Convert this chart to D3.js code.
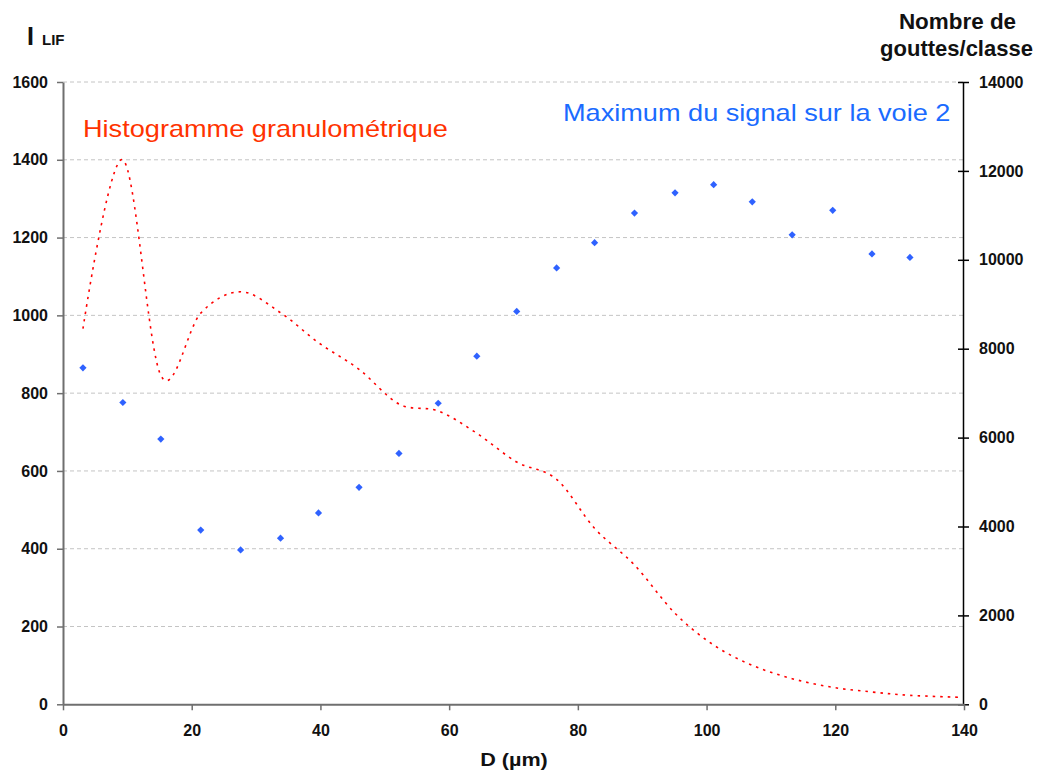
<!DOCTYPE html>
<html>
<head>
<meta charset="utf-8">
<script src="https://cdn.jsdelivr.net/npm/d3@7"></script>
<style>
  body { margin: 0; background: #fff; }
  svg { display: block; font-family: "Liberation Sans", Arial, sans-serif; }
</style>
</head>
<body>
<svg id="chart" width="1043" height="776"></svg>
<script>
// ---- data ----
const signalD = [3.1, 9.3, 15.2, 21.4, 27.6, 33.8, 39.7, 46.0, 52.2, 58.3, 64.3, 70.5, 76.7, 82.6, 88.8, 95.1, 101.1, 107.1, 113.3, 119.6, 125.7, 131.6];
const signalI = [865, 776, 682, 448, 397, 427, 492, 558, 645, 774, 895, 1010, 1122, 1187, 1263, 1315, 1336, 1292, 1207, 1270, 1158, 1149];

const histD = [3.1, 9.3, 15.2, 21.4, 27.6, 33.8, 39.7, 46.0, 52.2, 58.3, 64.3, 70.5, 76.7, 82.6, 88.8, 95.1, 101.1, 107.1, 113.3, 119.6, 125.7, 131.6, 139.5];
const histN = [8450, 12250, 7400, 8800, 9280, 8810, 8135, 7536, 6756, 6598, 6097, 5451, 5062, 3959, 3134, 2047, 1334, 877, 577, 382, 277, 202, 157];

const xTicks = [0, 20, 40, 60, 80, 100, 120, 140];
const yLeftTicks = [0, 200, 400, 600, 800, 1000, 1200, 1400, 1600];
const yRightTicks = [0, 2000, 4000, 6000, 8000, 10000, 12000, 14000];

// ---- scales ----
const svg = d3.select("#chart");
const L = 63, R = 964, T = 82, B = 704.3;
const x = d3.scaleLinear().domain([0, 140]).range([L, R]);
const yL = d3.scaleLinear().domain([0, 1600]).range([B, T]);
const yR = d3.scaleLinear().domain([0, 14000]).range([B, T]);
const fmt = d => String(d);
const FONT = "Liberation Sans, Arial, sans-serif";

// grid
svg.append("g").selectAll("line").data(yLeftTicks.filter(d => d > 0)).join("line")
  .attr("x1", L).attr("x2", R)
  .attr("y1", d => yL(d)).attr("y2", d => yL(d))
  .attr("stroke", "#c4c4c4").attr("stroke-width", 1).attr("stroke-dasharray", "4,3");

// left axis
const gl = svg.append("g").attr("transform", `translate(${L},0)`)
  .call(d3.axisLeft(yL).tickValues(yLeftTicks).tickFormat(fmt).tickSize(6).tickPadding(9).tickSizeOuter(0));
gl.select(".domain").attr("stroke", "#6f6f6f").attr("stroke-width", 2);
gl.selectAll(".tick line").attr("stroke", "#6f6f6f").attr("stroke-width", 1.5);
gl.selectAll(".tick text").attr("font-size", 16).attr("font-weight", "bold").attr("fill", "#111")
  .attr("font-family", FONT);

// right axis
const gr = svg.append("g").attr("transform", `translate(${R - 1},0)`)
  .call(d3.axisRight(yR).tickValues(yRightTicks).tickFormat(fmt).tickSize(6).tickPadding(10).tickSizeOuter(0));
gr.select(".domain").attr("stroke", "#000").attr("stroke-width", 1.5);
gr.selectAll(".tick line").attr("x1", -5).attr("stroke", "#000").attr("stroke-width", 1.5);
gr.selectAll(".tick text").attr("font-size", 16).attr("font-weight", "bold").attr("fill", "#111")
  .attr("font-family", FONT);

// bottom axis
const gb = svg.append("g").attr("transform", `translate(0,${B})`)
  .call(d3.axisBottom(x).tickValues(xTicks).tickFormat(fmt).tickSize(6).tickPadding(14).tickSizeOuter(0));
gb.select(".domain").attr("stroke", "#6f6f6f").attr("stroke-width", 2);
gb.selectAll(".tick line").attr("stroke", "#6f6f6f").attr("stroke-width", 1.5);
gb.selectAll(".tick text").attr("font-size", 16).attr("font-weight", "bold").attr("fill", "#111")
  .attr("font-family", FONT);

// histogram curve (right axis)
const line = d3.line().x((d, i) => x(histD[i])).y(d => yR(d)).curve(d3.curveCardinal.tension(0));
svg.append("path").datum(histN).attr("d", line)
  .attr("fill", "none").attr("stroke", "#ff0000").attr("stroke-width", 1.6)
  .attr("stroke-dasharray", "2.5,5");

// signal points (left axis)
const diamond = d3.symbol().type(d3.symbolSquare).size(26);
svg.append("g").selectAll("path").data(signalI).join("path")
  .attr("d", diamond)
  .attr("transform", (d, i) => `translate(${x(signalD[i])},${yL(d)}) rotate(45)`)
  .attr("fill", "#2f62ff");

// labels (horizontally stretched to match the reference glyph widths)
function label(tx, ty, sx, txt, size, fill, weight, anchor) {
  return svg.append("text")
    .attr("transform", `translate(${tx},${ty}) scale(${sx},1)`)
    .attr("font-size", size).attr("fill", fill)
    .attr("font-weight", weight || "normal")
    .attr("text-anchor", anchor || "start")
    .text(txt);
}
label(83, 136.5, 1.18, "Histogramme granulométrique", 23, "#ff3300");
label(563, 120.5, 1.18, "Maximum du signal sur la voie 2", 23, "#1a6bff");

const t1 = svg.append("text").attr("x", 27).attr("y", 45).attr("font-weight", "bold").attr("fill", "#111");
t1.append("tspan").attr("font-size", 25).text("I");
t1.append("tspan").attr("x", 42).attr("font-size", 15).text("LIF");

label(957.5, 29, 1.02, "Nombre de", 22, "#111", "bold", "middle");
label(956.5, 56, 1.0, "gouttes/classe", 22, "#111", "bold", "middle");

label(514, 765.5, 1.2, "D (µm)", 18, "#111", "bold", "middle");
</script>
</body>
</html>
